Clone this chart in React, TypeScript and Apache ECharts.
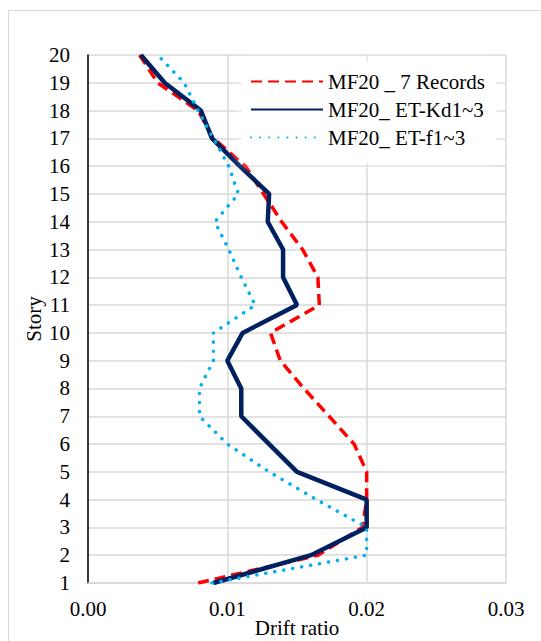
import React, { useEffect, useRef } from "react";
import * as echarts from "echarts";

const stories = [1, 2, 3, 4, 5, 6, 7, 8, 9, 10, 11, 12, 13, 14, 15, 16, 17, 18, 19, 20];
const records7 = [0.0079, 0.0165, 0.0197, 0.02, 0.02, 0.0191, 0.0173, 0.0155, 0.0138, 0.0131, 0.0166, 0.0165, 0.0154, 0.0139, 0.0126, 0.0113, 0.009, 0.0079, 0.005, 0.0037];
const etKd = [0.009, 0.016, 0.02, 0.02, 0.015, 0.013, 0.011, 0.011, 0.01, 0.0111, 0.015, 0.014, 0.014, 0.0129, 0.013, 0.0109, 0.0089, 0.0081, 0.0055, 0.0038];
const etF = [0.0089, 0.02, 0.02, 0.0164, 0.013, 0.01, 0.008, 0.008, 0.009, 0.009, 0.012, 0.011, 0.0101, 0.0091, 0.0108, 0.0101, 0.009, 0.0079, 0.0069, 0.005];
const seriesNames = ["MF20 _ 7 Records", "MF20_ ET-Kd1~3", "MF20_ ET-f1~3"];
const xTicks = [0, 0.01, 0.02, 0.03];

const FONT = "Liberation Serif";

export default function App() {
  const ref = useRef<HTMLDivElement>(null);
  useEffect(() => {
    if (!ref.current) return;
    const chart = echarts.init(ref.current, null, { renderer: "svg" });
    const toPairs = (vals: number[]) => vals.map((v, i) => [v, stories[i]]);
    const txt = { fontFamily: FONT, fontSize: 21, color: "#000" };
    chart.setOption({
      animation: false,
      backgroundColor: "#fff",
      textStyle: { fontFamily: FONT, fontSize: 21, color: "#000" },
      graphic: [
        {
          type: "rect",
          shape: { x: 8.5, y: 10.5, width: 620, height: 700 },
          style: { fill: "none", stroke: "#d9d9d9", lineWidth: 1.2 },
          silent: true,
        },
      ],
      grid: {
        left: 88,
        right: 35,
        top: 55,
        bottom: 58,
        containLabel: false,
        outerBoundsMode: "none",
      },
      xAxis: {
        type: "value",
        min: xTicks[0],
        max: xTicks[xTicks.length - 1],
        interval: 0.01,
        name: "Drift ratio",
        nameLocation: "middle",
        nameGap: 34,
        nameMoveOverlap: false,
        nameTextStyle: { ...txt, lineHeight: 21 },
        axisLine: { show: true, lineStyle: { color: "#d9d9d9", width: 1.5 } },
        axisTick: { show: false },
        axisLabel: {
          ...txt,
          margin: 15,
          formatter: (v: number) => v.toFixed(2),
        },
        splitLine: { show: true, lineStyle: { color: "#d9d9d9", width: 1.5 } },
      },
      yAxis: {
        type: "value",
        min: stories[0],
        max: stories[stories.length - 1],
        interval: 1,
        name: "Story",
        nameLocation: "middle",
        nameGap: 44,
        nameMoveOverlap: false,
        nameTextStyle: { ...txt },
        axisLine: { show: true, lineStyle: { color: "#000", width: 1.5 } },
        axisTick: { show: false },
        axisLabel: { ...txt, margin: 18 },
        splitLine: { show: true, lineStyle: { color: "#d9d9d9", width: 1.5 } },
      },
      legend: {
        show: true,
        orient: "vertical",
        left: 242,
        top: 62,
        padding: [9, 11, 14, 8],
        itemGap: 7,
        itemWidth: 72,
        itemHeight: 14,
        backgroundColor: "#fff",
        shadowColor: "rgba(255,255,255,0.9)",
        shadowBlur: 14,
        itemStyle: { opacity: 0 },
        textStyle: { ...txt },
        data: seriesNames,
      },
      series: [
        {
          name: seriesNames[0],
          type: "line",
          data: toPairs(records7),
          symbol: "none",
          showSymbol: false,
          z: 2,
          lineStyle: { color: "#ff0000", width: 3.5, type: [11, 6] },
          itemStyle: { color: "#ff0000" },
        },
        {
          name: seriesNames[1],
          type: "line",
          data: toPairs(etKd),
          symbol: "none",
          showSymbol: false,
          z: 3,
          lineStyle: { color: "#002060", width: 4.5, type: "solid" },
          itemStyle: { color: "#002060" },
        },
        {
          name: seriesNames[2],
          type: "line",
          data: toPairs(etF),
          symbol: "none",
          showSymbol: false,
          z: 4,
          lineStyle: { color: "#00b0f0", width: 3.5, type: [0.1, 9], cap: "round" },
          itemStyle: { color: "#00b0f0" },
        },
      ],
    });
    return () => chart.dispose();
  }, []);
  return (
    <div
      ref={ref}
      style={{ position: "fixed", left: 0, top: 0, width: 541, height: 641 }}
    />
  );
}
